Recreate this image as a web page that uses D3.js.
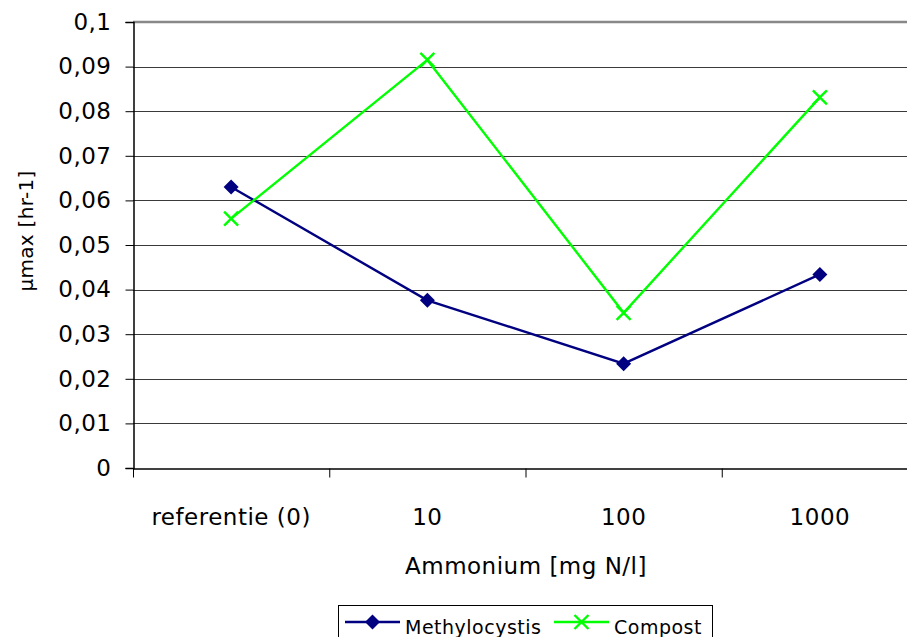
<!DOCTYPE html>
<html>
<head>
<meta charset="utf-8">
<script src="https://cdn.jsdelivr.net/npm/d3@7"></script>
<style>
	html, body { margin: 0; padding: 0; background: #fff; overflow: hidden; }
	text { font-family: "DejaVu Sans", Verdana, sans-serif; fill: #000; }
</style>
</head>
<body>
<script>
// ammonium levels on the x axis
const categories = ['referentie (0)', '10', '100', '1000']
const methylocystis = [0.063, 0.0376, 0.0234, 0.0434]
const compost = [0.0559, 0.0915, 0.0348, 0.0831]
const yTicks = [0, 0.01, 0.02, 0.03, 0.04, 0.05, 0.06, 0.07, 0.08, 0.09, 0.1]
const seriesNames = ['Methylocystis', 'Compost']

const width = 907
const height = 637
const margins = { top: 22, left: 133, right: -11, bottom: 169 }
const fontSize = 23
const spacing = 0.5

const locale = d3.formatLocale({ decimal: ',', thousands: '.', grouping: [3], currency: ['€', ''] })
const fmt = locale.format('.2~f')

const svg = d3.select('body').append('svg').attr('width', width).attr('height', height)

const x = d3.scaleBand()
	.domain(categories)
	.range([margins.left, width - margins.right])
	.padding(0)
const y = d3.scaleLinear()
	.domain([0, 0.1])
	.range([height - margins.bottom, margins.top])

// horizontal gridlines
svg.append('g')
	.selectAll('line')
	.data(yTicks.filter(d => d > 0 && d < 0.1))
	.join('line')
	.attr('x1', margins.left)
	.attr('x2', width)
	.attr('y1', d => Math.round(y(d)) + 0.5)
	.attr('y2', d => Math.round(y(d)) + 0.5)
	.attr('stroke', '#3a3a3a')
	.attr('stroke-width', 1)

// top border of plot area
svg.append('line')
	.attr('x1', margins.left).attr('x2', width)
	.attr('y1', y(0.1)).attr('y2', y(0.1))
	.attr('stroke', '#888').attr('stroke-width', 2.5)

// y axis
const yAxis = svg.append('g')
	.attr('transform', 'translate(' + (margins.left + 0.5) + ',0)')
	.call(d3.axisLeft(y).tickValues(yTicks).tickFormat(fmt).tickSize(8).tickPadding(14))
yAxis.select('.domain').attr('stroke', '#000').attr('stroke-width', 1.5)
yAxis.selectAll('.tick line').attr('stroke', '#000')
yAxis.selectAll('text')
	.attr('font-size', fontSize)
	.attr('letter-spacing', spacing)
	.attr('font-family', '"DejaVu Sans", Verdana, sans-serif')

// x axis
const xAxis = svg.append('g')
	.attr('transform', 'translate(0,' + (y(0) + 0.5) + ')')
	.call(d3.axisBottom(x).tickSize(0).tickPadding(40))
xAxis.select('.domain').attr('stroke', '#000').attr('stroke-width', 1.5)
xAxis.selectAll('text')
	.attr('font-size', fontSize)
	.attr('letter-spacing', spacing)
	.attr('font-family', '"DejaVu Sans", Verdana, sans-serif')
xAxis.selectAll('.sep')
	.data(categories)
	.join('line')
	.attr('class', 'sep')
	.attr('x1', d => x(d) + 0.5)
	.attr('x2', d => x(d) + 0.5)
	.attr('y1', 0)
	.attr('y2', 9)
	.attr('stroke', '#000')

// axis titles
svg.append('text')
	.attr('x', 526).attr('y', 574)
	.attr('text-anchor', 'middle')
	.attr('font-size', fontSize)
	.attr('letter-spacing', spacing)
	.text('Ammonium [mg N/l]')
svg.append('text')
	.attr('transform', 'translate(33,231) rotate(-90)')
	.attr('text-anchor', 'middle')
	.attr('font-size', 20)
	.attr('letter-spacing', 0.3)
	.text('µmax [hr-1]')

const cx = d => x(d) + x.bandwidth() / 2
const line = d3.line().x((d, i) => cx(categories[i])).y(d => y(d))

function diamond(g, px, py) {
	g.append('path')
		.attr('d', 'M' + px + ',' + (py - 7.5) + 'L' + (px + 7.5) + ',' + py + 'L' + px + ',' + (py + 7.5) + 'L' + (px - 7.5) + ',' + py + 'Z')
		.attr('fill', '#000080')
}
function cross(g, px, py) {
	g.append('path')
		.attr('d', 'M' + (px - 7) + ',' + (py - 7) + 'L' + (px + 7) + ',' + (py + 7) + 'M' + (px + 7) + ',' + (py - 7) + 'L' + (px - 7) + ',' + (py + 7))
		.attr('stroke', '#00ff00').attr('stroke-width', 2.4).attr('fill', 'none')
}

const gM = svg.append('g')
gM.append('path').attr('d', line(methylocystis)).attr('fill', 'none').attr('stroke', '#000080').attr('stroke-width', 2.4)
methylocystis.forEach((v, i) => diamond(gM, cx(categories[i]), y(v)))

const gC = svg.append('g')
gC.append('path').attr('d', line(compost)).attr('fill', 'none').attr('stroke', '#00ff00').attr('stroke-width', 2.4)
compost.forEach((v, i) => cross(gC, cx(categories[i]), y(v)))

// legend
const legend = svg.append('g')
legend.append('rect')
	.attr('x', 338.5).attr('y', 605.5)
	.attr('width', 374).attr('height', 60)
	.attr('fill', '#fff').attr('stroke', '#000').attr('stroke-width', 1)
const legendItems = [
	{ name: seriesNames[0], x0: 345, color: '#000080', mark: diamond },
	{ name: seriesNames[1], x0: 554, color: '#00ff00', mark: cross }
]
legendItems.forEach(it => {
	legend.append('line')
		.attr('x1', it.x0).attr('x2', it.x0 + 55)
		.attr('y1', 622).attr('y2', 622)
		.attr('stroke', it.color).attr('stroke-width', 2.4)
	it.mark(legend, it.x0 + 27.5, 622)
	legend.append('text')
		.attr('x', it.x0 + 60).attr('y', 634)
		.attr('font-size', 19)
		.attr('letter-spacing', spacing)
		.text(it.name)
})
</script>
</body>
</html>
